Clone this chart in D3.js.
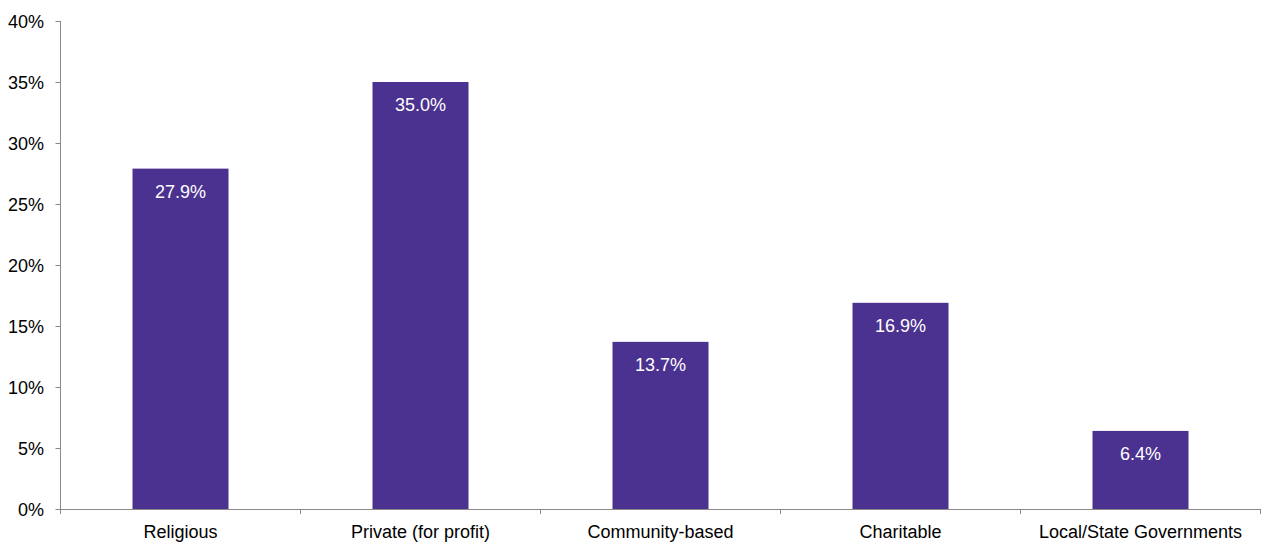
<!DOCTYPE html>
<html><head><meta charset="utf-8">
<script src="https://cdn.jsdelivr.net/npm/d3@7"></script>
<style>body{margin:0;background:#fff}svg{display:block}text{font-family:"Liberation Sans",Arial,sans-serif}</style>
</head><body>
<svg id="c" width="1261" height="543"></svg>
<script>
const categories = ["Religious","Private (for profit)","Community-based","Charitable","Local/State Governments"];
const values = [27.9, 35.0, 13.7, 16.9, 6.4];
const yTicks = [0,5,10,15,20,25,30,35,40];

const svg = d3.select("#c");
const m = {l:60.5, r:1260.5, t:21, b:509};
const x = d3.scaleBand().domain(categories).range([m.l, m.r]).paddingInner(0.6).paddingOuter(0.3);
const y = d3.scaleLinear().domain([0,40]).range([m.b, m.t]);
const gray = "#898989";
const fs = 18;

svg.selectAll("rect.bar").data(values).enter().append("rect")
  .attr("x",(d,i)=>x(categories[i])).attr("width",x.bandwidth())
  .attr("y",d=>y(d)).attr("height",d=>y(0)-y(d)).attr("fill","#4B3190");

svg.selectAll("text.lbl").data(values).enter().append("text")
  .attr("x",(d,i)=>x(categories[i])+x.bandwidth()/2).attr("y",d=>y(d)+29)
  .attr("text-anchor","middle").attr("fill","#fff").attr("font-size",fs)
  .text(d=>d.toFixed(1)+"%");

// y axis
const ya = svg.append("g");
ya.append("line").attr("x1",m.l).attr("x2",m.l).attr("y1",m.t).attr("y2",m.b).attr("stroke",gray);
yTicks.forEach(t=>{
  ya.append("line").attr("x1",m.l-5).attr("x2",m.l).attr("y1",Math.round(y(t))+0.5).attr("y2",Math.round(y(t))+0.5).attr("stroke",gray);
  ya.append("text").attr("x",44).attr("y",y(t)+6.5).attr("text-anchor","end").attr("font-size",fs).attr("fill","#000").text(t+"%");
});
// x axis
const xa = svg.append("g");
xa.append("line").attr("x1",m.l).attr("x2",m.r).attr("y1",m.b+0.5).attr("y2",m.b+0.5).attr("stroke",gray);
for(let i=0;i<=categories.length;i++){
  const xx = m.l + i*(m.r-m.l)/categories.length;
  xa.append("line").attr("x1",xx).attr("x2",xx).attr("y1",m.b).attr("y2",m.b+5).attr("stroke",gray);
}
categories.forEach(c=>{
  xa.append("text").attr("x",x(c)+x.bandwidth()/2).attr("y",538).attr("text-anchor","middle").attr("font-size",fs).attr("fill","#000").text(c);
});
</script>
</body></html>
